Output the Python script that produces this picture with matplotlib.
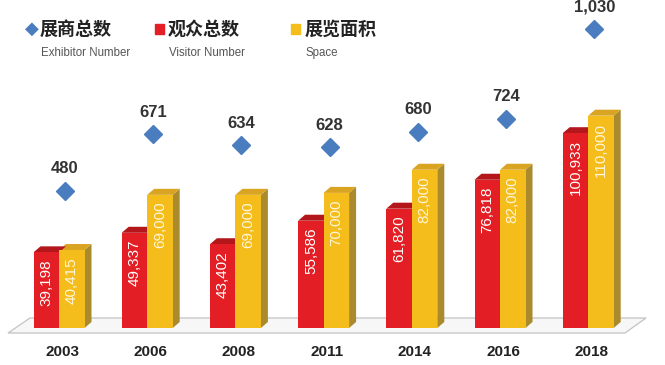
import matplotlib.pyplot as plt
from matplotlib.patches import Polygon

plt.rcParams['font.family'] = ['Liberation Sans', 'Noto Sans CJK SC', 'DejaVu Sans']

# data
years = ["2003", "2006", "2008", "2011", "2014", "2016", "2018"]
exhibitors = [480, 671, 634, 628, 680, 724, 1030]
visitors = [39198, 49337, 43402, 55586, 61820, 76818, 100933]
space = [40415, 69000, 69000, 70000, 82000, 82000, 110000]

red = "#e31e24"
red_top = "#b3161b"
yel = "#f4bd1b"
yel_top = "#d9a422"
yel_side = "#a98a2c"
blue = "#4a7dbf"

fig = plt.figure(figsize=(6.65, 3.65), dpi=100)
ax = fig.add_axes([0, 0, 1, 1])
ax.axis("off")

# pixel helpers: x unit = one group (88.2px), y in data values
px_x = 88.2
px_y = 0.00193
ax.set_xlim(-59 / px_x, (665 - 59) / px_x)
ax.set_ylim(-(365 - 328) / px_y, 328 / px_y)

w = 25.5 / px_x
dx = 7 / px_x
dy = 6 / px_y

# floor
fl = Polygon([(-51 / px_x, -5 / px_y), (-29 / px_x, 10 / px_y),
              (587 / px_x, 10 / px_y), (566 / px_x, -5 / px_y)],
             closed=True, facecolor="#f7f7f7", edgecolor="#c8c8c8", lw=1, zorder=1)
ax.add_patch(fl)

xs = list(range(len(years)))
for i in xs:
    # yellow bar (right), side and top
    yx = i
    v = space[i]
    ax.add_patch(Polygon([(yx + w, 0), (yx + w + dx, dy), (yx + w + dx, v + dy), (yx + w, v)],
                         closed=True, facecolor=yel_side, edgecolor="none", zorder=2))
    ax.add_patch(Polygon([(yx, v), (yx + dx, v + dy), (yx + w + dx, v + dy), (yx + w, v)],
                         closed=True, facecolor=yel_top, edgecolor="none", zorder=2))
    # red top
    r = visitors[i]
    ax.add_patch(Polygon([(i - w, r), (i - w + dx, r + dy), (i + dx, r + dy), (i, r)],
                         closed=True, facecolor=red_top, edgecolor="none", zorder=2))

ax.bar([i - w / 2 for i in xs], visitors, width=w, color=red, zorder=3)
ax.bar([i + w / 2 for i in xs], space, width=w, color=yel, zorder=3)

for i in xs:
    ax.text(i - w / 2, visitors[i] - 7 / px_y, f"{visitors[i]:,}", rotation=90,
            ha="center", va="top", color="white", fontsize=11, zorder=4)
    ax.text(i + w / 2, space[i] - 7 / px_y, f"{space[i]:,}", rotation=90,
            ha="center", va="top", color="#fff6d8", fontsize=11, zorder=4)
    ax.text(i + 3 / px_x, -24 / px_y, years[i], ha="center", va="center",
            fontsize=11, fontweight="bold", color="#222222")

# exhibitors on their own scale, same baseline
ax2 = fig.add_axes([0, 0, 1, 1], sharex=ax)
ax2.axis("off")
ey = 0.2945
ax2.set_ylim(-(365 - 332) / ey, 332 / ey)
ax2.plot([i + 6 / px_x for i in xs], exhibitors, linestyle="none", marker="D",
         markersize=9, color=blue, zorder=5)
for i in xs:
    ax2.text(i + 6 / px_x, exhibitors[i] + 22 / ey, f"{exhibitors[i]:,}", ha="center",
             va="center", fontsize=12, fontweight="bold", color="#333333")

# legend
fig.text(32 / 665, 1 - 29 / 365, "\u25c6", color=blue, fontsize=13, ha="center",
         va="center", family=["DejaVu Sans"])
items = [(40, "展商总数", "Exhibitor Number"), (168, "观众总数", "Visitor Number"),
         (305, "展览面积", "Space")]
for x0, zh, en in items:
    fig.text(x0 / 665, 1 - 29 / 365, zh, fontsize=13, fontweight="bold", ha="left",
             va="center", color="#222222", family=["Noto Sans CJK SC"])
    fig.text((x0 + 1) / 665, 1 - 53 / 365, en, fontsize=8.3, ha="left", va="center",
             color="#555555")
fig.patches.append(plt.Rectangle((155 / 665, 1 - 34 / 365), 9 / 665, 10 / 365,
                                 transform=fig.transFigure, color=red))
fig.patches.append(plt.Rectangle((291 / 665, 1 - 34 / 365), 9 / 665, 10 / 365,
                                 transform=fig.transFigure, color=yel))

fig.savefig("out.png", dpi=100)
